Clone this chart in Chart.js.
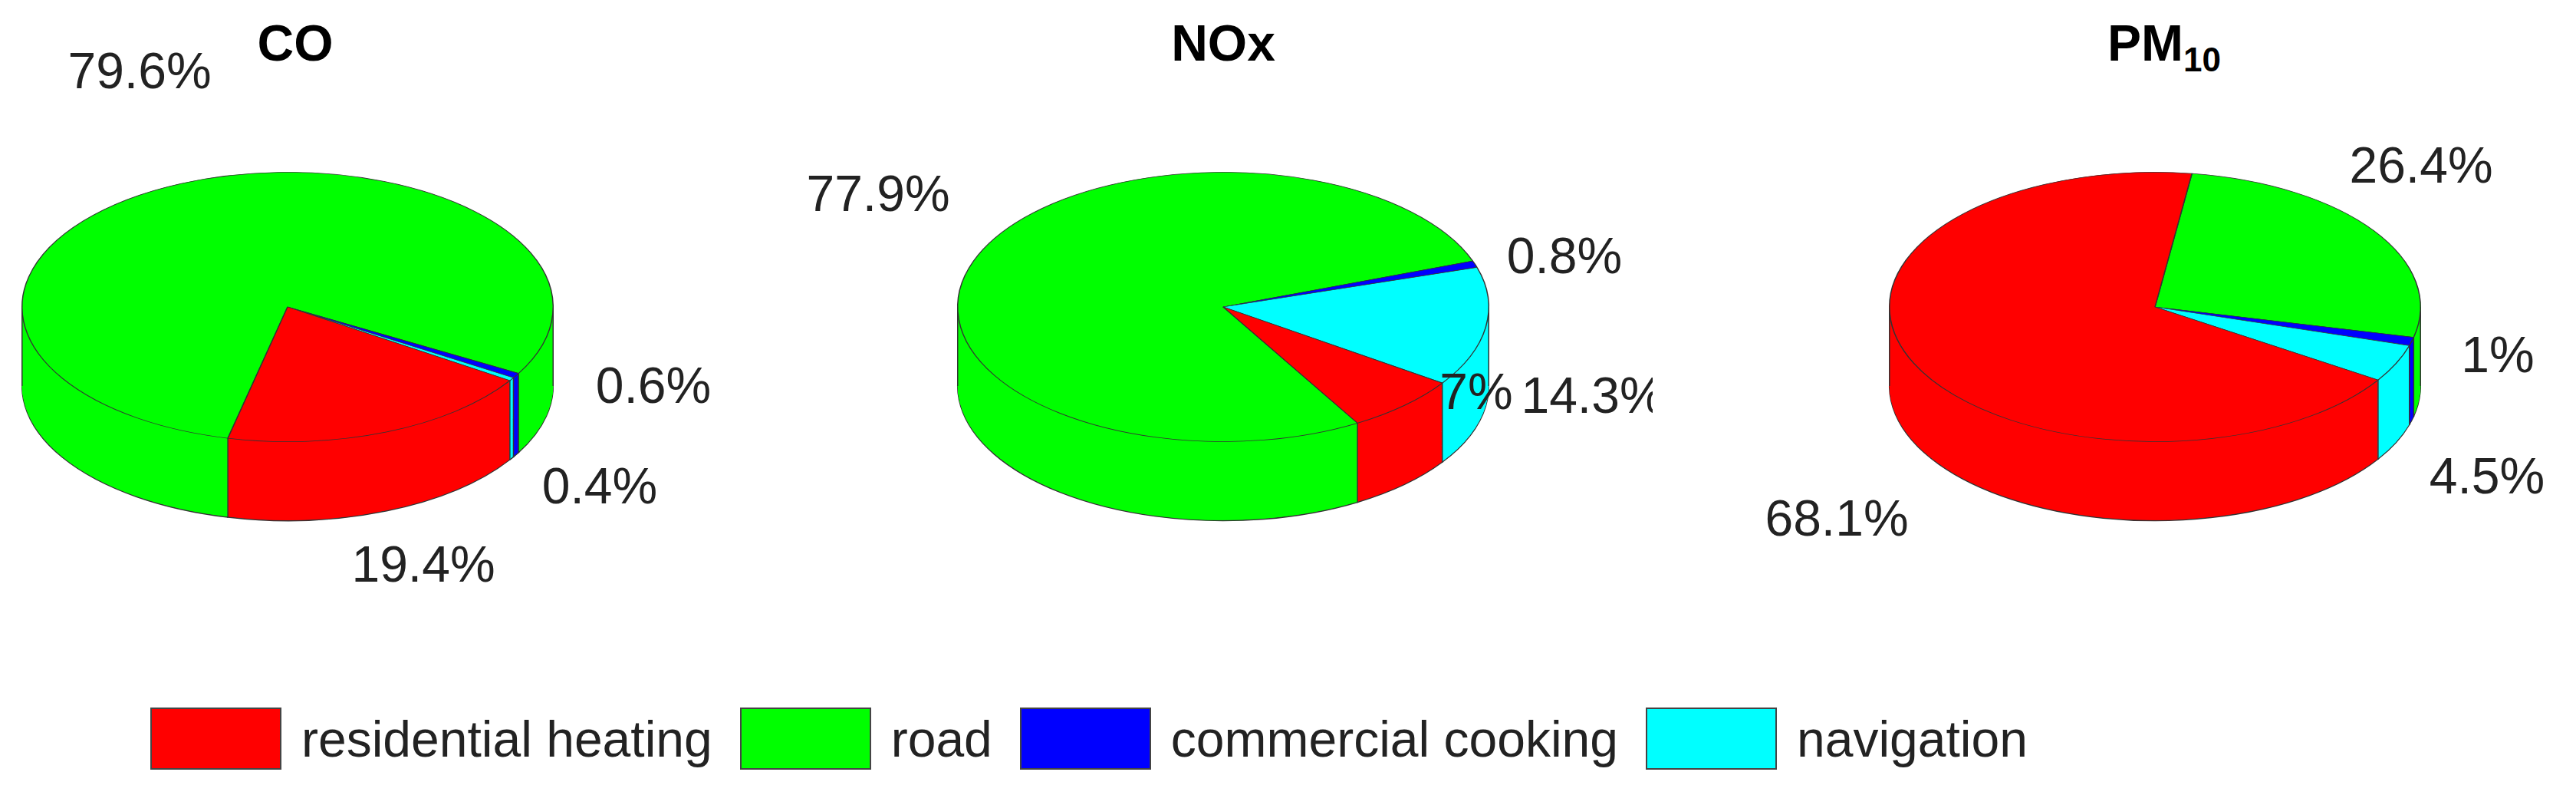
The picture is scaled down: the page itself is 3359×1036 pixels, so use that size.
<!DOCTYPE html>
<html>
<head>
<meta charset="utf-8">
<script src="https://cdn.jsdelivr.net/npm/chart.js@4.4.1/dist/chart.umd.min.js"></script>
<style>
  body { margin: 0; width: 3359px; height: 1036px; background: #fff; overflow: hidden; font-family: "Liberation Sans", Arial, sans-serif; position: relative; }
  canvas { position: absolute; top: 0; }
  .title { position: absolute; top: 18px; font-weight: bold; font-size: 66px; transform: translateX(-50%); color: #000; }
  .title sub { font-size: 44px; vertical-align: -14px; }
  #legend { position: absolute; top: 922px; left: 196px; display: flex; align-items: center; font-size: 66px; color: #222; }
  #legend .box { width: 171px; height: 81px; border: 2px solid #444; box-sizing: border-box; margin-right: 26px; }
  #legend .item { display: flex; align-items: center; margin-right: 36px; }
</style>
</head>
<body>
<div class="title" style="left:385px">CO</div>
<div class="title" style="left:1595px">NOx</div>
<div class="title" style="left:2822px">PM<sub>10</sub></div>
<div id="legend"></div>
<canvas id="c0" width="1120" height="1036"></canvas>
<canvas id="c1" width="1120" height="1036"></canvas>
<canvas id="c2" width="1120" height="1036"></canvas>
<script>
// legend order
const sources = ['residential heating', 'road', 'commercial cooking', 'navigation'];
const sourceColors = ['#ff0000', '#00ff00', '#0000ff', '#00ffff'];

// drawing order clockwise: road, commercial cooking, navigation, residential heating
const sliceOrder = [1, 2, 3, 0];
const pollutants = ['CO', 'NOx', 'PM10'];
const coValues = [19.4, 79.6, 0.6, 0.4];
const noxValues = [7, 77.9, 0.8, 14.3];
const pm10Values = [68.1, 26.4, 1, 4.5];
const rotations = [193, 149.6, 8];

// layout only
const centers = [375, 1595, 2810];
const centerY = 400;
const squash = 0.507;
const depth = 103;
const labelPos = [
  [[552, 740], [182, 97], [852, 507], [782, 638]],
  [[1925, 515], [1145, 257], [2040, 338], [2077, 520]],
  [[2395, 680], [3157, 220], [3257, 467], [3243, 625]]
];

const legend = document.getElementById('legend');
sources.forEach(function(s, i) {
  const item = document.createElement('div');
  item.className = 'item';
  item.innerHTML = '<div class="box" style="background:' + sourceColors[i] + '"></div>' + s;
  legend.appendChild(item);
});

function arcPath(ctx, p) {
  ctx.beginPath();
  ctx.moveTo(p.x, p.y);
  ctx.arc(p.x, p.y, p.outerRadius, p.startAngle, p.endAngle);
  ctx.closePath();
}

const pie3d = {
  id: 'pie3d',
  beforeDatasetsDraw(chart) {
    const ctx = chart.ctx;
    const meta = chart.getDatasetMeta(0);
    const colors = chart.data.datasets[0].backgroundColor;
    const p0 = meta.data[0].getProps(['x', 'y']);
    const cyT = chart.options.plugins.pie3d.cy;
    ctx.save();
    ctx.translate(0, cyT);
    ctx.scale(1, squash);
    ctx.translate(0, -p0.y);
    const d = depth / squash;
    // side extrusion
    for (let k = d; k >= 0; k -= 1.5) {
      ctx.save();
      ctx.translate(0, k);
      meta.data.forEach(function(el, i) {
        const p = el.getProps(['x', 'y', 'startAngle', 'endAngle', 'outerRadius']);
        arcPath(ctx, p);
        ctx.fillStyle = colors[i];
        ctx.fill();
        if (k === d) {
          ctx.save();
          ctx.setTransform(1, 0, 0, 1, 0, 0);
          ctx.lineWidth = 1.5;
          ctx.strokeStyle = '#333';
          ctx.stroke();
          ctx.restore();
        }
      });
      ctx.restore();
    }
    ctx.restore();
    // vertical edges on the front
    const R = meta.data[0].getProps(['outerRadius']).outerRadius;
    ctx.save();
    ctx.strokeStyle = '#333';
    ctx.lineWidth = 1.5;
    const edgeAngles = [0, Math.PI];
    meta.data.forEach(function(el) { edgeAngles.push(el.getProps(['startAngle']).startAngle); });
    edgeAngles.forEach(function(a) {
      if (Math.sin(a) >= -0.001) {
        const x = p0.x + R * Math.cos(a);
        const y = cyT + R * Math.sin(a) * squash;
        ctx.beginPath();
        ctx.moveTo(x, y);
        ctx.lineTo(x, y + depth);
        ctx.stroke();
      }
    });
    ctx.restore();
    // squash the top face
    ctx.save();
    ctx.translate(0, cyT);
    ctx.scale(1, squash);
    ctx.translate(0, -p0.y);
  },
  afterDatasetsDraw(chart) {
    const ctx = chart.ctx;
    ctx.restore();
    const o = chart.options.plugins.pie3d;
    ctx.save();
    ctx.font = '66px "Liberation Sans", Arial, sans-serif';
    ctx.fillStyle = '#222';
    ctx.textAlign = 'center';
    ctx.textBaseline = 'middle';
    chart.data.datasets[0].data.forEach(function(v, i) {
      const pos = o.labels[i];
      ctx.fillText(v + '%', pos[0] - o.left, pos[1]);
    });
    ctx.restore();
  }
};

function makePie(idx, values) {
  const canvas = document.getElementById('c' + idx);
  const left = centers[idx] - 560;
  canvas.style.left = left + 'px';
  const data = sliceOrder.map(function(j) { return values[j]; });
  const colors = sliceOrder.map(function(j) { return sourceColors[j]; });
  const labels = sliceOrder.map(function(j) { return labelPos[idx][j]; });
  new Chart(canvas, {
    type: 'pie',
    data: {
      labels: sliceOrder.map(function(j) { return sources[j]; }),
      datasets: [{
        data: data,
        backgroundColor: colors,
        borderColor: '#333',
        borderWidth: 1.5
      }]
    },
    options: {
      responsive: false,
      animation: false,
      rotation: rotations[idx],
      layout: { padding: { left: 213, right: 213, top: 171, bottom: 171 } },
      plugins: {
        legend: { display: false },
        tooltip: { enabled: false },
        pie3d: { cy: centerY, left: left, labels: labels }
      }
    },
    plugins: [pie3d]
  });
}

makePie(0, coValues);
makePie(1, noxValues);
makePie(2, pm10Values);
</script>
</body>
</html>
